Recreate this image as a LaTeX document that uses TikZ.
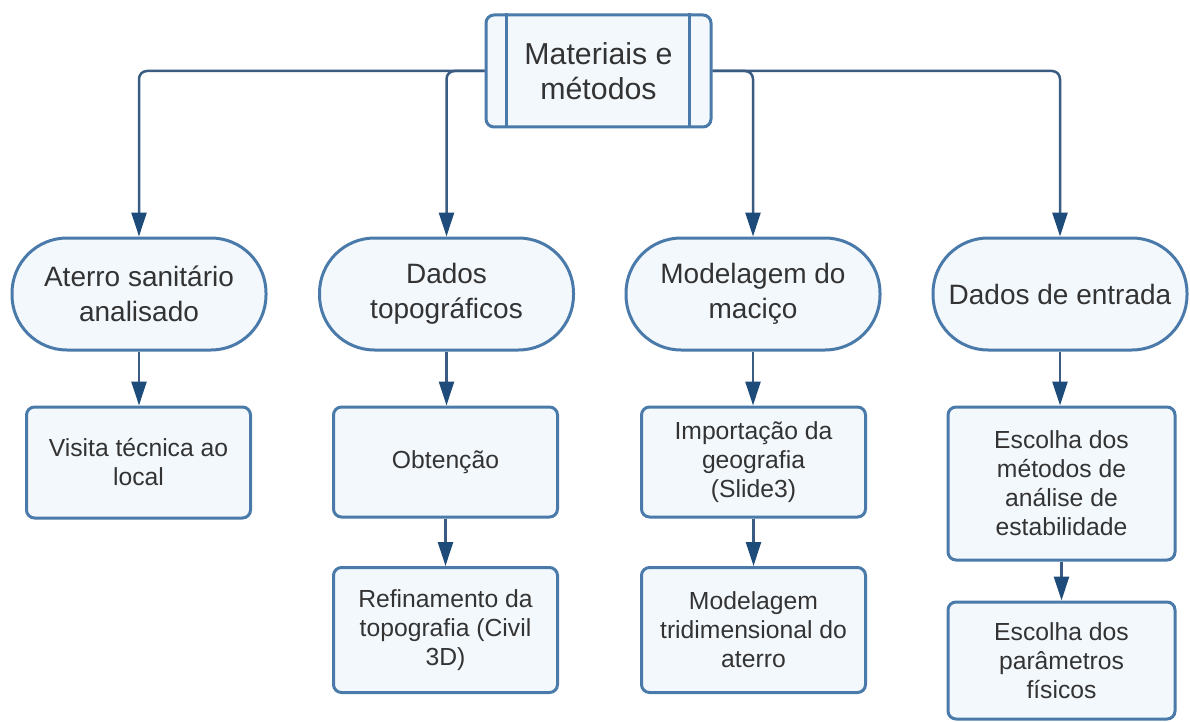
\documentclass[tikz,border=0pt]{standalone}
\usepackage{fontspec}
\setmainfont{Liberation Sans}
\usetikzlibrary{arrows.meta,calc}
\definecolor{cEdge}{RGB}{74,122,170}
\definecolor{cFill}{RGB}{243,248,253}
\definecolor{cLink}{RGB}{58,92,130}
\definecolor{cTip}{RGB}{29,75,122}
\definecolor{cText}{RGB}{51,51,51}
\tikzset{
  box/.style={draw=cEdge,fill=cFill,line width=3pt,text=cText,align=center,inner sep=0pt},
  pill/.style={box,rounded corners=55pt,minimum width=254pt,minimum height=112pt,font=\fontsize{28}{35}\selectfont},
  proc/.style={box,rounded corners=8pt,minimum width=224pt,font=\fontsize{24.7}{29}\selectfont},
  link/.style={draw=cLink,line width=2.5pt,rounded corners=8pt,-{Triangle[length=24pt,width=15pt,color=cTip]}},
}
\begin{document}
\begin{tikzpicture}[x=1pt,y=-1pt]
\useasboundingbox[fill=white] (0,0) rectangle (1190,722);
% top
\node[box,rounded corners=8pt,minimum width=225pt,minimum height=112pt,font=\fontsize{30.3}{35}\selectfont] (mm) at (598.5,71) {Materiais e\\métodos};
\draw[cEdge,line width=3pt] ($(mm.north west)+(22,0)$) -- ($(mm.south west)+(22,0)$);
\draw[cEdge,line width=3pt] ($(mm.north east)+(-23,0)$) -- ($(mm.south east)+(-23,0)$);
% second row
\node[pill] (s1) at (139,294) {Aterro sanitário\\analisado};
\node[pill] (s2) at (446.5,294) {Dados\\topográficos};
\node[pill] (s3) at (753,294) {Modelagem do\\maciço};
\node[pill] (s4) at (1060,294) {Dados de entrada};
% steps
\node[proc,minimum height=111pt] (r1) at (138.5,462.5) {Visita técnica ao\\local};
\node[proc,minimum height=110pt] (r2) at (445.5,462) {Obtenção};
\node[proc,minimum height=110pt] (r3) at (753.5,462) {Importação da\\geografia\\(Slide3)};
\node[proc,minimum height=153pt,minimum width=227pt] (r4) at (1061.5,483.5) {Escolha dos\\métodos de\\análise de\\estabilidade};
\node[proc,minimum height=125pt] (q2) at (445.5,630) {Refinamento da\\topografia (Civil\\3D)};
\node[proc,minimum height=125pt] (q3) at (753.5,630) {Modelagem\\tridimensional do\\aterro};
\node[proc,minimum height=117pt,minimum width=227pt] (q4) at (1061.5,660.5) {Escolha dos\\parâmetros\\físicos};
% links
\draw[link] (mm.west) -| (s1.north);
\draw[link] (mm.west) -| (s2.north);
\draw[link] (mm.east) -| (s3.north);
\draw[link] (mm.east) -| (s4.north);
\draw[link] (s1.south) -- (s1.south |- r1.north);
\draw[link] (s2.south) -- (s2.south |- r2.north);
\draw[link] (s3.south) -- (s3.south |- r3.north);
\draw[link] (s4.south) -- (s4.south |- r4.north);
\draw[link] (r2.south) -- (r2.south |- q2.north);
\draw[link] (r3.south) -- (r3.south |- q3.north);
\draw[link] (r4.south) -- (r4.south |- q4.north);
\end{tikzpicture}
\end{document}
